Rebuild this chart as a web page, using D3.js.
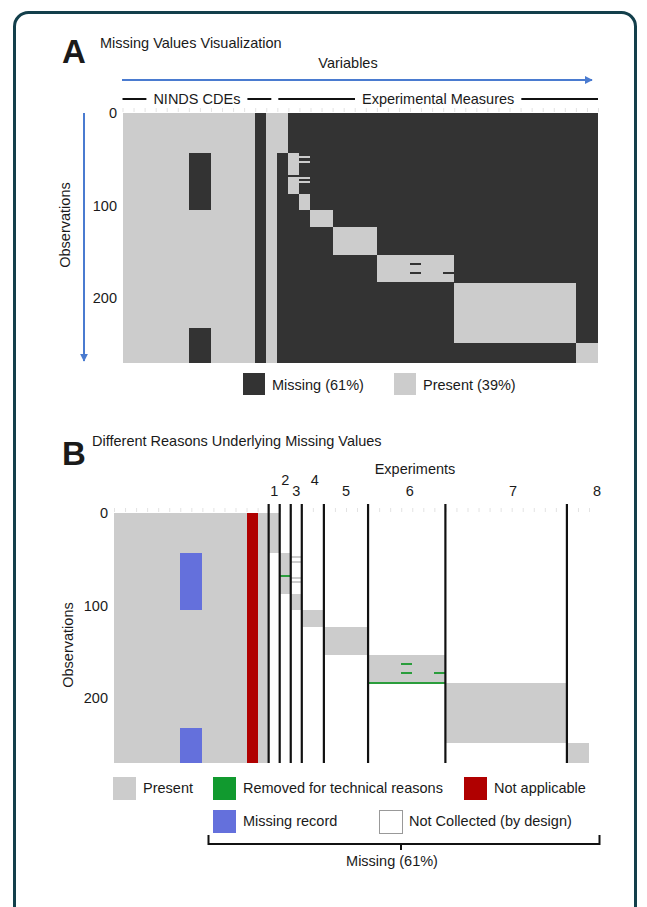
<!DOCTYPE html>
<html><head><meta charset="utf-8">
<script src="https://cdn.jsdelivr.net/npm/d3@7"></script>
<style>
body{margin:0;background:#fff}
text{font-family:"Liberation Sans",Arial,sans-serif;fill:#1a1a1a}
</style>
</head><body>
<svg id="chart" width="647" height="907"></svg>
<script>
// ---------------- data ----------------
const nObservations = 270;
const cdeGroupLabel = "NINDS CDEs";
const expGroupLabel = "Experimental Measures";
const cdeVariableCount = 14;
const experimentNames = ["1","2","3","4","5","6","7","8"];
const experimentVariableCounts = [1,1,1,2,4,7,11,2];
const experimentObsStart = [0,43,88,105,123,154,184,249];
const experimentObsEnd   = [43,88,105,123,154,184,249,270];
const missingRecordVars = [6,7];
const missingRecordObsRanges = [[43,105],[233,270]];
const notApplicableVars = [12];
const extraPresentVar = 16;
const extraPresentObsRanges = [[46,48],[52,54],[69,71],[74,76]];
const removedCells = [[15,67],[26,162],[26,172],[29,172],
  [23,183],[24,183],[25,183],[26,183],[27,183],[28,183],[29,183]];
const obsTicks = [0,100,200];
const missingPct = 61, presentPct = 39;
const legendA = [{k:"missing",label:`Missing (${missingPct}%)`},{k:"present",label:`Present (${presentPct}%)`}];
const legendB = [
  {k:"P",label:"Present"},{k:"R",label:"Removed for technical reasons"},{k:"A",label:"Not applicable"},
  {k:"M",label:"Missing record"},{k:"N",label:"Not Collected (by design)"}];

// ---------------- build matrix ----------------
const totalVars = cdeVariableCount + d3.sum(experimentVariableCounts);
const status = d3.range(totalVars).map(() => new Array(nObservations).fill("N"));
for (let v=0; v<cdeVariableCount; v++) status[v].fill("P");
notApplicableVars.forEach(v => status[v].fill("A"));
missingRecordVars.forEach(v => missingRecordObsRanges.forEach(([a,b]) => { for(let o=a;o<b;o++) status[v][o]="M"; }));
const expStartVar = [];
let vv = cdeVariableCount;
experimentVariableCounts.forEach((c,i) => {
  expStartVar.push(vv);
  for (let v=vv; v<vv+c; v++) for (let o=experimentObsStart[i]; o<experimentObsEnd[i]; o++) status[v][o]="P";
  vv += c;
});
extraPresentObsRanges.forEach(([a,b]) => { for(let o=a;o<b;o++) status[extraPresentVar][o]="P"; });
removedCells.forEach(([v,o]) => status[v][o]="R");

function runs(code){
  const out=[];
  status.forEach((col,v)=>{
    let s=null;
    for(let o=0;o<=nObservations;o++){
      const on = o<nObservations && col[o]===code;
      if(on && s===null) s=o;
      if(!on && s!==null){ out.push({v,a:s,b:o}); s=null; }
    }
  });
  return out;
}

const svg = d3.select("#chart");
const C = {dark:"#333333", light:"#cccccc", red:"#b00000", blue:"#6470dc", green:"#2a9d3c", arrow:"#4a7bd0"};
const FS = 14.5;

// frame
svg.append("rect").attr("x",14.5).attr("y",12.5).attr("width",621).attr("height",940)
  .attr("rx",14).attr("fill","none").attr("stroke","#133f4b").attr("stroke-width",3);

// arrow marker
const defs = svg.append("defs");
defs.append("marker").attr("id","ah").attr("viewBox","0 0 10 10").attr("refX",9).attr("refY",5)
  .attr("markerWidth",4).attr("markerHeight",4).attr("orient","auto")
  .append("path").attr("d","M0,0L10,5L0,10z").attr("fill",C.arrow);

// ---------------- Panel A ----------------
const xA = d3.scaleLinear().domain([0,totalVars]).range([122.5,598]);
const yA = d3.scaleLinear().domain([0,nObservations]).range([113,362.5]);

svg.append("text").attr("x",62).attr("y",63).style("font-size","33px").style("font-weight","bold").text("A");
svg.append("text").attr("x",100).attr("y",48).style("font-size",FS+"px").text("Missing Values Visualization");
svg.append("text").attr("x",348).attr("y",68).attr("text-anchor","middle").style("font-size",FS+"px").text("Variables");
svg.append("line").attr("x1",122).attr("x2",592).attr("y1",80).attr("y2",80)
  .attr("stroke",C.arrow).attr("stroke-width",2).attr("marker-end","url(#ah)");

// group labels
function groupLabel(x0,x1,label,yy){
  const t = svg.append("text").attr("x",(x0+x1)/2).attr("y",yy+5).attr("text-anchor","middle")
    .style("font-size",FS+"px").text(label);
  const w = t.node().getComputedTextLength();
  const cx=(x0+x1)/2;
  svg.append("line").attr("x1",x0).attr("x2",cx-w/2-7).attr("y1",yy).attr("y2",yy).attr("stroke","#111").attr("stroke-width",2);
  svg.append("line").attr("x1",cx+w/2+7).attr("x2",x1).attr("y1",yy).attr("y2",yy).attr("stroke","#111").attr("stroke-width",2);
}
groupLabel(xA(0), xA(cdeVariableCount)-6, cdeGroupLabel, 99);
groupLabel(xA(cdeVariableCount)+1, xA(totalVars), expGroupLabel, 99);

const gA = svg.append("g").attr("shape-rendering","crispEdges");
gA.append("rect").attr("x",xA(0)).attr("y",yA(0)).attr("width",xA(totalVars)-xA(0)).attr("height",yA(nObservations)-yA(0)).attr("fill",C.dark);
gA.selectAll(".p").data(runs("P")).join("rect")
  .attr("x",d=>xA(d.v)).attr("width",d=>xA(d.v+1)-xA(d.v))
  .attr("y",d=>yA(d.a)).attr("height",d=>Math.max(2,yA(d.b)-yA(d.a))).attr("fill",C.light);
gA.selectAll(".r").data(runs("R")).join("rect")
  .attr("x",d=>xA(d.v)).attr("width",d=>xA(d.v+1)-xA(d.v))
  .attr("y",d=>yA(d.a)).attr("height",2).attr("fill",C.dark);

// faint top ruler
function ruler(x,yTop){
  const g = svg.append("g").attr("transform",`translate(0,${yTop})`)
    .call(d3.axisTop(x).tickValues(d3.range(0,totalVars+1)).tickSize(4).tickFormat(""));
  g.select(".domain").remove();
  g.selectAll("line").attr("stroke","#e3e3e3");
}
ruler(xA, yA(0)-1);

function yAxis(y, xPos){
  const g = svg.append("g").attr("transform",`translate(${xPos},0)`)
    .call(d3.axisLeft(y).tickValues(obsTicks).tickSize(0).tickPadding(0));
  g.select(".domain").remove();
  g.selectAll("text").style("font-size",FS+"px").style("font-family",'"Liberation Sans",Arial,sans-serif').attr("fill","#1a1a1a");
}
yAxis(yA, 117);
svg.append("text").attr("transform","translate(70,225) rotate(-90)").attr("text-anchor","middle")
  .style("font-size",FS+"px").text("Observations");
svg.append("line").attr("x1",84).attr("x2",84).attr("y1",113).attr("y2",361)
  .attr("stroke",C.arrow).attr("stroke-width",2).attr("marker-end","url(#ah)");

// legend A
const lgA = svg.append("g");
const lgAx = [243,394];
legendA.forEach((d,i)=>{
  lgA.append("rect").attr("x",lgAx[i]).attr("y",373).attr("width",22).attr("height",22)
    .attr("fill", d.k==="missing"?C.dark:C.light);
  lgA.append("text").attr("x",lgAx[i]+29).attr("y",390).style("font-size",FS+"px").text(d.label);
});

// ---------------- Panel B ----------------
const xB = d3.scaleLinear().domain([0,totalVars]).range([114,589]);
const yB = d3.scaleLinear().domain([0,nObservations]).range([513,762.5]);

svg.append("text").attr("x",62).attr("y",465).style("font-size","33px").style("font-weight","bold").text("B");
svg.append("text").attr("x",92).attr("y",446).style("font-size",FS+"px").text("Different Reasons Underlying Missing Values");
svg.append("text").attr("x",415).attr("y",474).attr("text-anchor","middle").style("font-size",FS+"px").text("Experiments");

const colB = {P:C.light, M:C.blue, A:C.red};
const gB = svg.append("g").attr("shape-rendering","crispEdges");
["P","M","A"].forEach(k=>{
  gB.selectAll(".b"+k).data(runs(k)).join("rect")
    .attr("x",d=>xB(d.v)).attr("width",d=>xB(d.v+1)-xB(d.v))
    .attr("y",d=>yB(d.a)).attr("height",d=>Math.max(2,yB(d.b)-yB(d.a))).attr("fill",colB[k]);
});
gB.selectAll(".bR").data(runs("R")).join("rect")
  .attr("x",d=>xB(d.v)).attr("width",d=>xB(d.v+1)-xB(d.v))
  .attr("y",d=>yB(d.a)).attr("height",2).attr("fill",C.green);

ruler(xB, yB(0)-1);
yAxis(yB, 108);
svg.append("text").attr("transform","translate(73,645) rotate(-90)").attr("text-anchor","middle")
  .style("font-size",FS+"px").text("Observations");

// experiment separators and labels
const labelLift = [0,11,0,11,0,0,0,0];
const labelShift = [0,0,0,2,0,3,7,19];
expStartVar.forEach((sv,i)=>{
  svg.append("line").attr("x1",xB(sv)).attr("x2",xB(sv)).attr("y1",504).attr("y2",763)
    .attr("stroke","#111").attr("stroke-width",2.2);
  const cx = (xB(sv)+xB(sv+experimentVariableCounts[i]))/2 + labelShift[i];
  svg.append("text").attr("x",cx).attr("y",496-labelLift[i]).attr("text-anchor","middle")
    .style("font-size",FS+"px").text(experimentNames[i]);
});

// legend B
const lgBpos = [[113,777],[213,777],[464,777],[213,810],[379,810]];
const lgBcol = {P:C.light,R:"#119a2f",A:C.red,M:C.blue,N:"#ffffff"};
legendB.forEach((d,i)=>{
  const [lx,ly]=lgBpos[i];
  svg.append("rect").attr("x",lx+(d.k==="N"?0.5:0)).attr("y",ly+(d.k==="N"?0.5:0))
    .attr("width",d.k==="N"?23:23).attr("height",23)
    .attr("fill",lgBcol[d.k]).attr("stroke",d.k==="N"?"#999":"none");
  svg.append("text").attr("x",lx+30).attr("y",ly+16).style("font-size",FS+"px").text(d.label);
});
svg.append("path").attr("d","M208.5,835 V844 H599.5 V835 M401,844 V850").attr("fill","none")
  .attr("stroke","#111").attr("stroke-width",2);
svg.append("text").attr("x",392).attr("y",866).attr("text-anchor","middle").style("font-size",FS+"px").text(`Missing (${missingPct}%)`);
</script>
</body></html>
